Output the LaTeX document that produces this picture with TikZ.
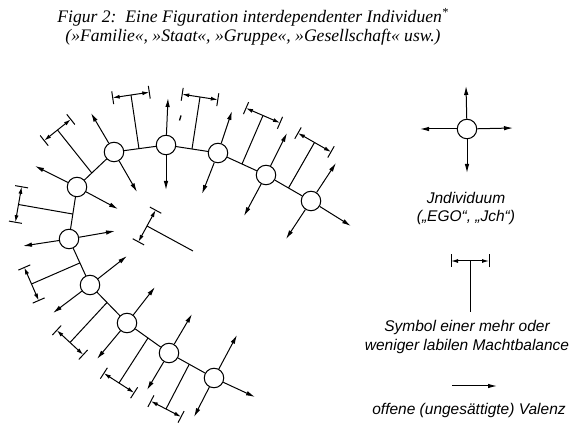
\documentclass[tikz,border=0pt]{standalone}
\usepackage{fontspec}
\setmainfont{Liberation Serif}
\newfontfamily\legfont{Liberation Sans}
\usetikzlibrary{arrows.meta,calc}
\newcommand\balsym[4]{%
  \coordinate (#1b) at (#2);
  \coordinate (#1t) at (#3);
  \coordinate (#1l) at ($(#1t)!#4!90:(#1b)$);
  \coordinate (#1r) at ($(#1t)!#4!-90:(#1b)$);
  \draw[link] (#1b) -- (#1t);
  \draw[bar] (#1l) -- (#1r);
  \draw[link] ($(#1l)!6.5pt!90:(#1r)$) -- ($(#1l)!6.5pt!-90:(#1r)$);
  \draw[link] ($(#1r)!6.5pt!90:(#1l)$) -- ($(#1r)!6.5pt!-90:(#1l)$);
}
\begin{document}
\begin{tikzpicture}[x=1pt,y=-1pt,
  indiv/.style={circle,draw,line width=1pt,minimum size=19.5pt,inner sep=0pt,fill=white},
  valenz/.style={-{Latex[length=9pt,width=4.5pt]},line width=1pt},
  link/.style={line width=1pt},
  bar/.style={{Latex[length=7pt,width=4pt]}-{Latex[length=7pt,width=4pt]},line width=1pt},
  ttl/.style={font=\fontsize{17.6}{19}\selectfont\itshape,align=center},
  leg/.style={font=\legfont\itshape\fontsize{15.5}{18.5}\selectfont,align=center}
]
\useasboundingbox (0,0) rectangle (579,427);

% title
\node[ttl] (title) at (253,27) {Figur 2:\ \ Eine Figuration interdependenter Individuen\textsuperscript{*}\\(»Familie«, »Staat«, »Gruppe«, »Gesellschaft« usw.)};

% individuals
\foreach \n/\x/\y in {A1/214/378, A2/169/353, A3/127/323, A4/90/285, A5/69/239,
  A6/77/187, A7/114/152, A8/166/145, A9/218/153, A10/266/175, A11/311/201}
  \node[indiv] (\n) at (\x,\y) {};

% links
\foreach \a/\b in {A1/A2, A2/A3, A3/A4, A4/A5, A5/A6, A6/A7, A7/A8, A8/A9, A9/A10, A10/A11}
  \draw[link] (\a) -- (\b);

% open valences
\foreach \n/\x/\y [count=\i] in {A1/237/335, A1/194/417, A1/255/397,
  A2/192/314, A2/147/390, A3/155/287, A3/97/359, A4/127/256, A4/53/313,
  A5/23/246, A5/115/231, A6/35/166, A6/118/209, A7/91/113, A7/137/192,
  A8/168/98, A8/166/190, A9/232/111, A9/202/194, A10/287/133, A10/244/216,
  A11/336/163, A11/286/239, A11/351/226} {
  \coordinate (v\i) at (\x,\y);
  \draw[valenz] (\n) -- (v\i);
}

% power balances
\balsym{B1}{$(A1)!0.55!(A2)$}{166,409}{17pt}
\balsym{B2}{$(A2)!0.5!(A3)$}{119,383}{18pt}
\balsym{B3}{$(A3)!0.54!(A4)$}{70,342.5}{18pt}
\balsym{B4}{$(A4)!0.48!(A5)$}{31.5,284}{18pt}
\balsym{B5}{$(A5)!0.48!(A6)$}{18.5,204.5}{18pt}
\balsym{B6}{$(A6)!0.4!(A7)$}{57.5,130}{17pt}
\balsym{B7}{$(A7)!0.48!(A8)$}{131,95}{18.5pt}
\balsym{B8}{$(A8)!0.5!(A9)$}{200,97}{18pt}
\balsym{B9}{$(A9)!0.5!(A10)$}{263,115.5}{18.5pt}
\balsym{B10}{$(A10)!0.5!(A11)$}{314.5,142.5}{19pt}
\balsym{BI}{193,251}{147,226}{18pt}

% stray mark
\draw[line width=1.3pt] (179.5,120.5) -- (181,115.5);

% legend: individual
\node[indiv] (E) at (467,129) {};
\foreach \x/\y [count=\i] in {466/86, 420/129, 513/128, 467/173} {
  \coordinate (e\i) at (\x,\y);
  \draw[valenz] (E) -- (e\i);
}
\node[leg] (lind) at (466,208.5) {Jndividuum\\(„EGO“, „Jch“)};

% legend: balance
\balsym{L}{470,312}{470,261}{19pt}
\node[leg] (lsym) at (467,337) {Symbol einer mehr oder\\weniger labilen Machtbalance};

% legend: valence
\coordinate (va) at (452,386);
\coordinate (vb) at (497,386);
\draw[valenz] (va) -- (vb);
\node[leg] (lval) at (469,410) {offene (ungesättigte) Valenz};
\end{tikzpicture}
\end{document}
